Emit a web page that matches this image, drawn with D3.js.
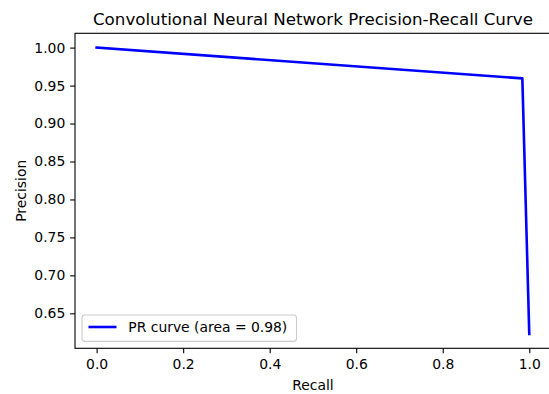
<!DOCTYPE html>
<html>
<head>
<meta charset="utf-8">
<script src="https://cdn.jsdelivr.net/npm/d3@7"></script>
<style>
	body { margin: 0; background: #fff; }
	text { font-family: "DejaVu Sans", sans-serif; fill: #000; }
</style>
</head>
<body>
<div id="chart"></div>
<script>
// data
var recall = [0.0, 0.984, 1.0];
var precision = [1.0, 0.9595, 0.6228];
var xTicks = [0.0, 0.2, 0.4, 0.6, 0.8, 1.0];
var yTicks = [0.65, 0.70, 0.75, 0.80, 0.85, 0.90, 0.95, 1.00];
var legendLabel = "PR curve (area = 0.98)";

// svg params
var svgWidth = 549;
var svgHeight = 394;

// axes box (right spine sits just past the edge)
var margin = { top: 33.3, left: 75, bottom: 348.3, right: 550.9 };

var svg = d3.select("#chart")
	.append("svg")
	.attr("width", svgWidth)
	.attr("height", svgHeight);

var points = recall.map(function(r, i) { return { r: r, p: precision[i] }; });

// matplotlib-like 5% margins
var xPad = 0.05 * (d3.max(recall) - d3.min(recall));
var yPad = 0.05 * (d3.max(precision) - d3.min(precision));

var xScale = d3.scaleLinear()
	.domain([d3.min(recall) - xPad, d3.max(recall) + xPad])
	.range([margin.left, margin.right]);

var yScale = d3.scaleLinear()
	.domain([d3.min(precision) - yPad, d3.max(precision) + yPad])
	.range([margin.bottom, margin.top]);

var tickLen = 4.86;

// x axis
var xAxis = svg.append("g")
	.attr("transform", `translate(0, ${margin.bottom})`)
	.call(d3.axisBottom(xScale)
		.tickValues(xTicks)
		.tickFormat(d3.format(".1f"))
		.tickSize(tickLen)
		.tickSizeOuter(0)
		.tickPadding(6.2));

// y axis
var yAxis = svg.append("g")
	.attr("transform", `translate(${margin.left}, 0)`)
	.call(d3.axisLeft(yScale)
		.tickValues(yTicks)
		.tickFormat(d3.format(".2f"))
		.tickSize(tickLen)
		.tickSizeOuter(0)
		.tickPadding(4.86));

[xAxis, yAxis].forEach(function(ax) {
	ax.select(".domain").remove();
	ax.selectAll(".tick line").attr("stroke", "#000").attr("stroke-width", 1.1);
	ax.selectAll(".tick text")
		.style("font-family", "'DejaVu Sans', sans-serif")
		.style("font-size", "13.9px")
		.attr("fill", "#000");
});

// PR curve
var line = d3.line()
	.x(d => xScale(d.r))
	.y(d => yScale(d.p));

svg.append("path")
	.datum(points)
	.attr("d", line)
	.attr("fill", "none")
	.attr("stroke", "#0000ff")
	.attr("stroke-width", 2.6)
	.attr("stroke-linejoin", "round")
	.attr("stroke-linecap", "square");

// spines
svg.append("rect")
	.attr("x", margin.left)
	.attr("y", margin.top)
	.attr("width", margin.right - margin.left)
	.attr("height", margin.bottom - margin.top)
	.attr("fill", "none")
	.attr("stroke", "#000")
	.attr("stroke-width", 1.1);

// title
svg.append("text")
	.attr("x", (margin.left + margin.right) / 2)
	.attr("y", 24.6)
	.attr("text-anchor", "middle")
	.style("font-size", "16.7px")
	.text("Convolutional Neural Network Precision-Recall Curve");

// axis labels
svg.append("text")
	.attr("x", (margin.left + margin.right) / 2)
	.attr("y", 389.5)
	.attr("text-anchor", "middle")
	.style("font-size", "13.9px")
	.text("Recall");

svg.append("text")
	.attr("transform", `translate(25.5, ${(margin.top + margin.bottom) / 2}) rotate(-90)`)
	.attr("text-anchor", "middle")
	.style("font-size", "13.9px")
	.text("Precision");

// legend
var legend = svg.append("g");

legend.append("rect")
	.attr("x", 82)
	.attr("y", 315)
	.attr("width", 214.5)
	.attr("height", 26.4)
	.attr("rx", 2.8)
	.attr("fill", "#fff")
	.attr("fill-opacity", 0.8)
	.attr("stroke", "#cccccc")
	.attr("stroke-width", 1.1);

legend.append("line")
	.attr("x1", 88.5)
	.attr("x2", 116.5)
	.attr("y1", 327)
	.attr("y2", 327)
	.attr("stroke", "#0000ff")
	.attr("stroke-width", 2.6);

legend.append("text")
	.attr("x", 128.3)
	.attr("y", 332)
	.style("font-size", "13.9px")
	.text(legendLabel);
</script>
</body>
</html>
